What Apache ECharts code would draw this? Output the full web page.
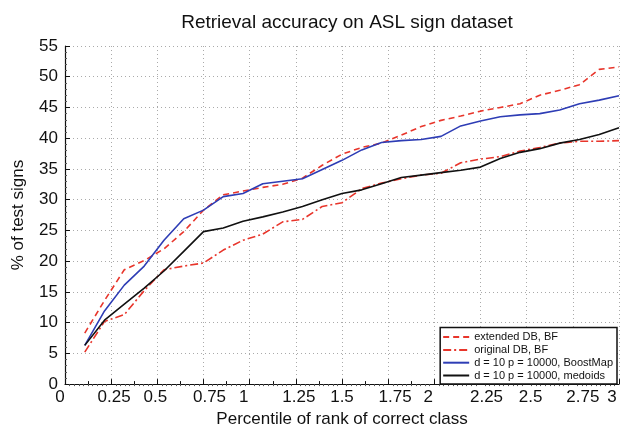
<!DOCTYPE html>
<html>
<head>
<meta charset="utf-8">
<script src="https://cdn.jsdelivr.net/npm/echarts@6/dist/echarts.min.js"></script>
<style>html,body{margin:0;padding:0;background:#fff;}#c{width:620px;height:433px;}</style>
</head>
<body>
<div id="c"></div>
<script>
const xValues = [0.107, 0.214, 0.321, 0.429, 0.536, 0.643, 0.75, 0.857, 0.964, 1.071, 1.179, 1.286, 1.393, 1.5, 1.607, 1.714, 1.821, 1.929, 2.036, 2.143, 2.25, 2.357, 2.464, 2.571, 2.679, 2.786, 2.893, 3.0];
const extendedBF = [8.3, 13.6, 18.6, 20.1, 22.0, 24.8, 28.3, 30.8, 31.4, 32.0, 32.5, 33.5, 35.6, 37.4, 38.5, 39.2, 40.5, 41.9, 42.9, 43.6, 44.4, 45.0, 45.6, 47.0, 47.8, 48.7, 51.2, 51.6];
const originalBF = [5.2, 10.2, 11.3, 15.2, 18.6, 19.2, 19.7, 21.8, 23.4, 24.4, 26.4, 26.8, 28.9, 29.5, 31.8, 32.7, 33.4, 34.0, 34.3, 36.0, 36.6, 37.0, 37.9, 38.5, 39.2, 39.5, 39.5, 39.6];
const boostMap = [6.3, 11.9, 16.1, 19.2, 23.4, 26.9, 28.3, 30.5, 31.0, 32.6, 33.0, 33.4, 34.9, 36.4, 38.1, 39.3, 39.6, 39.8, 40.3, 42.0, 42.8, 43.5, 43.8, 44.0, 44.6, 45.6, 46.2, 46.9];
const medoids = [6.3, 10.4, 13.0, 15.6, 18.4, 21.6, 24.8, 25.4, 26.5, 27.2, 28.0, 28.9, 30.0, 31.0, 31.6, 32.6, 33.6, 34.0, 34.4, 34.8, 35.3, 36.7, 37.7, 38.3, 39.2, 39.8, 40.6, 41.7];
const seriesNames = ['extended DB, BF', 'original DB, BF', 'd = 10 p = 10000, BoostMap', 'd = 10 p = 10000, medoids'];
const xTickLabels = ['0', '0.25', '0.5', '0.75', '1', '1.25', '1.5', '1.75', '2', '2.25', '2.5', '2.75', '3'];

// horizontal nudges of the x tick labels (px), as drawn in the original figure
const xLabelNudge = [-5, 3, -2, 6, -6, 3, 0, 7, -6, 6, 4, 10, -7];

const pairs = ys => xValues.map((x, i) => [x, ys[i]]);
const FONT = 'Liberation Sans';
const RED = '#e8352b', BLUE = '#2e3db5', BLACK = '#111';

const rich = {};
xLabelNudge.forEach((d, i) => {
  rich['n' + i] = {
    fontFamily: FONT, fontSize: 17, color: '#111',
    padding: d >= 0 ? [0, 0, 0, 2 * d] : [0, -2 * d, 0, 0]
  };
});

const chart = echarts.init(document.getElementById('c'), null, {renderer: 'canvas'});
chart.setOption({
  animation: false,
  backgroundColor: '#fff',
  textStyle: {fontFamily: FONT},
  title: {
    text: 'Retrieval accuracy on ASL sign dataset',
    left: 342, top: 8, textAlign: 'center',
    textStyle: {fontFamily: FONT, fontSize: 19, fontWeight: 'normal', color: '#111'}
  },
  grid: {left: 65, right: 1, top: 46, bottom: 46, containLabel: false},
  legend: {
    orient: 'vertical',
    right: 3, bottom: 49,
    backgroundColor: '#fff', borderColor: '#111', borderWidth: 1.5,
    padding: [4, 4, 3, 2],
    itemWidth: 26, itemHeight: 12, itemGap: 1.8,
    itemStyle: {opacity: 0},
    textStyle: {fontFamily: FONT, fontSize: 11, color: '#111'},
    data: seriesNames.map(n => ({name: n}))
  },
  xAxis: [{
    type: 'value', min: 0, max: 3, interval: 0.25,
    name: 'Percentile of rank of correct class', nameLocation: 'middle', nameGap: 26,
    nameTextStyle: {fontFamily: FONT, fontSize: 17, color: '#111'},
    axisLine: {lineStyle: {color: '#111', width: 1.2}},
    axisTick: {inside: true, length: 5, lineStyle: {color: '#111'}},
    minorTick: {show: true, splitNumber: 2, length: 3, lineStyle: {color: '#111'}},
    axisLabel: {fontFamily: FONT, fontSize: 17, color: '#111', margin: 5, rich: rich,
      formatter: v => { const i = Math.round(v / 0.25); return '{n' + i + '|' + xTickLabels[i] + '}'; }},
    splitLine: {show: true, lineStyle: {color: '#aaa', type: [1, 3], width: 1}}
  }, {
    type: 'value', min: 0, max: 3, interval: 0.25, position: 'bottom', offset: 0,
    axisLine: {show: false}, axisLabel: {show: false}, splitLine: {show: false},
    axisTick: {show: false},
    minorTick: {show: true, splitNumber: 10, length: 2, lineStyle: {color: '#555'}}
  }],
  yAxis: {
    type: 'value', min: 0, max: 55, interval: 5,
    name: '% of test signs', nameLocation: 'middle', nameGap: 38,
    nameTextStyle: {fontFamily: FONT, fontSize: 17, color: '#111'},
    axisLine: {lineStyle: {color: '#111', width: 1.2}},
    axisTick: {inside: true, length: 5, lineStyle: {color: '#111'}},
    minorTick: {show: true, splitNumber: 5, length: 2, lineStyle: {color: '#555'}},
    axisLabel: {fontFamily: FONT, fontSize: 17, color: '#111', margin: 7},
    splitLine: {show: true, lineStyle: {color: '#aaa', type: [1, 3], width: 1}}
  },
  series: [
    {name: seriesNames[0], type: 'line', data: pairs(extendedBF), symbol: 'none',
      lineStyle: {color: RED, width: 1.6, type: [6, 4]}, itemStyle: {color: RED}},
    {name: seriesNames[1], type: 'line', data: pairs(originalBF), symbol: 'none',
      lineStyle: {color: RED, width: 1.6, type: [8, 3, 2, 3]}, itemStyle: {color: RED}},
    {name: seriesNames[2], type: 'line', data: pairs(boostMap), symbol: 'none',
      lineStyle: {color: BLUE, width: 1.6}, itemStyle: {color: BLUE}},
    {name: seriesNames[3], type: 'line', data: pairs(medoids), symbol: 'none',
      lineStyle: {color: BLACK, width: 1.6}, itemStyle: {color: BLACK}}
  ]
});
</script>
</body>
</html>
